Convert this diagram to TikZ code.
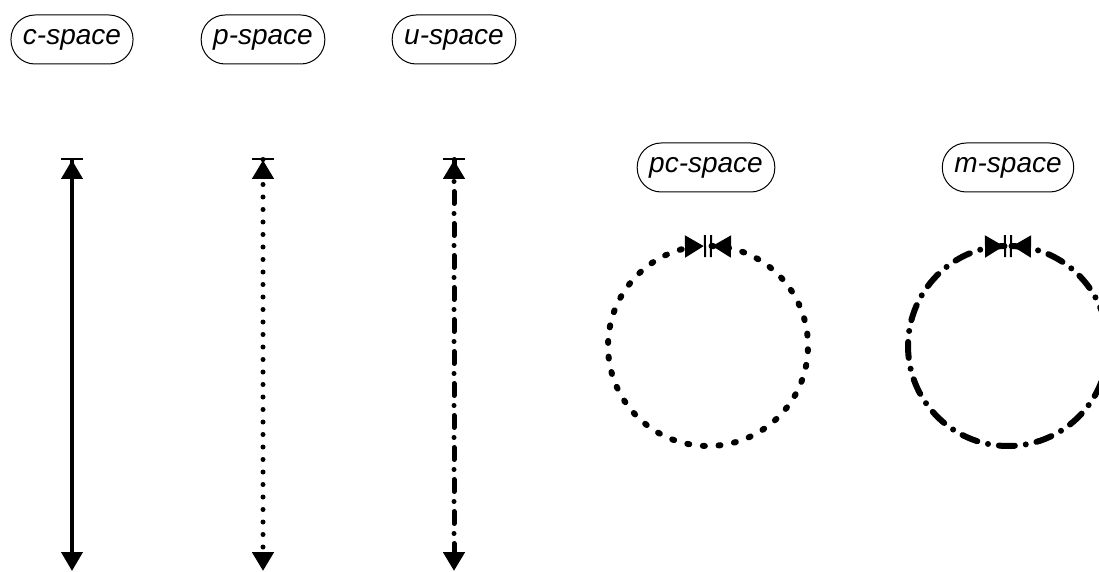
\documentclass[tikz,border=0pt]{standalone}
\usepackage{fontspec}
\setmainfont{Liberation Sans}
\usetikzlibrary{arrows.meta}
\tikzset{
  space/.style={draw, line width=1pt, rounded corners=24pt, minimum height=49pt, inner xsep=12pt, inner ysep=4pt, font=\fontsize{28}{32}\selectfont\itshape},
  tri/.tip={Triangle[length=19pt,width=21pt]},
  brr/.tip={Bar[width=22pt,line width=2pt]},
  axis/.style={line width=4pt},
  dotline/.style={line width=5pt, line cap=round, dash pattern=on 0pt off 12.5pt},
  dashdotline/.style={line width=5pt, line cap=round, dash pattern=on 12pt off 10pt on 0pt off 10pt},
  dotcirc/.style={line width=6pt, line cap=round, dash pattern=on 2pt off 13.7pt},
  dashdotcirc/.style={line width=6pt, line cap=round, dash pattern=on 16pt off 11pt on 0pt off 11pt},
}
\begin{document}
\begin{tikzpicture}[x=1pt,y=1pt]
\useasboundingbox (0,0) rectangle (1099,571);
\node[space] (cs) at (72,531.5) {c-space};
\node[space] (ps) at (263,531.5) {p-space};
\node[space] (us) at (454,531.5) {u-space};
\node[space] (pcs) at (706,403.5) {pc-space};
\node[space] (ms) at (1008,403.5) {m-space};
\coordinate (ct) at (72,413);
\coordinate (cb) at (72,0);
\coordinate (pt) at (263,413);
\coordinate (pb) at (263,0);
\coordinate (ut) at (454,413);
\coordinate (ub) at (454,0);
\draw[axis, {brr[] tri[]}-{tri[]}] (ct) -- (cb);
\draw[dotline, {brr[] tri[]}-{tri[]}] (pt) -- (pb);
\draw[dashdotline, {brr[] tri[]}-{tri[]}] (ut) -- (ub);
\draw[dotcirc, {brr[] tri[]}-{tri[] brr[]}] (708,225) ++(88.85:100) arc[start angle=88.85, end angle=-268.85, radius=100];
\draw[dashdotcirc, {brr[] tri[]}-{tri[] brr[]}] (1008,225) ++(88.85:100) arc[start angle=88.85, end angle=-268.85, radius=100];
\end{tikzpicture}
\end{document}
